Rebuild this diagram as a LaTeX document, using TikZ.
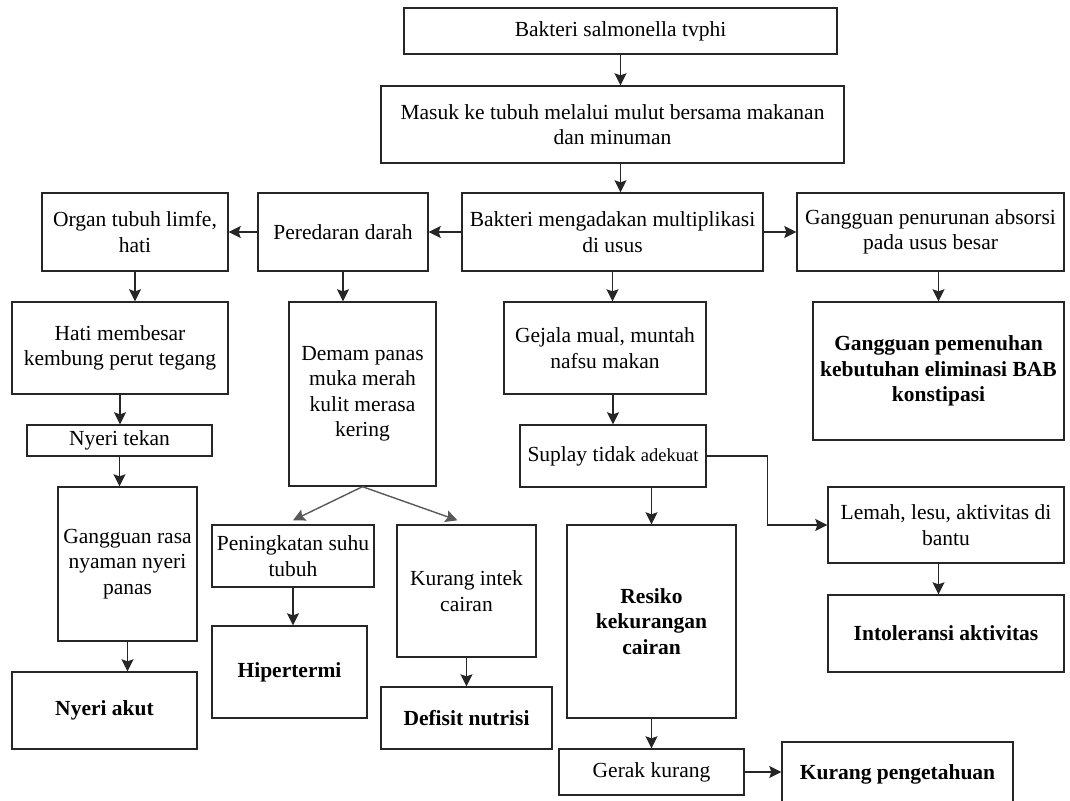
\documentclass[tikz,border=0pt]{standalone}
\usepackage{fontspec}
\setmainfont{Liberation Serif}
\usetikzlibrary{arrows.meta,positioning,calc}

\begin{document}
\begin{tikzpicture}[x=1pt,y=-1pt,
    font=\fontsize{21.5}{25.5}\selectfont,
    every node/.style={align=center},
    box/.style={draw=black!85,line width=1.4pt,inner sep=2pt},
    diag/.style={box,font=\fontsize{21.5}{25.5}\selectfont\bfseries},
    arr/.style={-{Stealth[length=12pt,width=12pt,inset=2pt]},line width=1.4pt,black!85}]
  \useasboundingbox (0,0) rectangle (1070,800);
  \clip (0,0) rectangle (1070,800);

  \node[box,minimum width=433pt,minimum height=46pt]
    (bakteri) at (620.5,31) {Bakteri salmonella tvphi};
  \node[box,minimum width=463pt,minimum height=77pt]
    (masuk) at (612.5,124.5) {Masuk ke tubuh melalui mulut bersama makanan\\dan minuman};
  \node[box,minimum width=301pt,minimum height=78pt]
    (multi) at (612.5,232) {Bakteri mengadakan multiplikasi\\di usus};
  \node[box,minimum width=170pt,minimum height=78pt]
    (darah) at (343,232) {Peredaran darah};
  \node[box,minimum width=186pt,minimum height=78pt]
    (organ) at (135,232) {Organ tubuh limfe,\\hati};
  \node[box,minimum width=267pt,minimum height=78pt]
    (absorsi) at (930.5,232) {Gangguan penurunan absorsi\\pada usus besar};

  \node[box,minimum width=216pt,minimum height=92pt]
    (hati) at (120,348) {Hati membesar\\kembung perut tegang};
  \node[box,minimum width=185pt,minimum height=31pt]
    (tekan) at (119.5,440.5) {Nyeri tekan};
  \node[box,minimum width=139pt,minimum height=154pt]
    (rasa) at (127.5,564) {Gangguan rasa\\nyaman nyeri\\panas};
  \node[diag,minimum width=185pt,minimum height=77pt]
    (akut) at (104.5,710.5) {Nyeri akut};

  \node[box,minimum width=147pt,minimum height=184pt]
    (demam) at (362.5,394) {Demam panas\\muka merah\\kulit merasa\\kering};
  \node[box,minimum width=162pt,minimum height=62pt]
    (suhu) at (293,556) {Peningkatan suhu\\tubuh};
  \node[diag,minimum width=155pt,minimum height=92pt]
    (hiper) at (289.5,672) {Hipertermi};
  \node[box,minimum width=139pt,minimum height=132pt]
    (intek) at (466.5,591) {Kurang intek\\cairan};
  \node[diag,minimum width=171pt,minimum height=62pt]
    (defisit) at (466.5,718) {Defisit nutrisi};

  \node[box,minimum width=202pt,minimum height=92pt]
    (gejala) at (605,348) {Gejala mual, muntah\\nafsu makan};
  \node[box,minimum width=186pt,minimum height=62pt]
    (suplay) at (613,456) {Suplay tidak {\fontsize{18.5}{22}\selectfont adekuat}};
  \node[diag,minimum width=169pt,minimum height=193pt]
    (resiko) at (651.5,621.5) {Resiko\\kekurangan\\cairan};
  \node[box,minimum width=185pt,minimum height=46pt]
    (gerak) at (651.5,772) {Gerak kurang};
  \node[diag,minimum width=231pt,minimum height=64pt]
    (tahu) at (897.5,774) {Kurang pengetahuan};

  \node[diag,minimum width=251pt,minimum height=138pt]
    (bab) at (938.5,371) {Gangguan pemenuhan\\kebutuhan eliminasi BAB\\konstipasi};
  \node[box,minimum width=236pt,minimum height=76pt]
    (lemah) at (946,525) {Lemah, lesu, aktivitas di\\bantu};
  \node[diag,minimum width=236pt,minimum height=77pt]
    (intol) at (946,633.5) {Intoleransi aktivitas};

  \draw[arr] (bakteri.south) -- (bakteri.south |- masuk.north);
  \draw[arr] (masuk.south -| bakteri.south) -- (bakteri.south |- multi.north);
  \draw[arr] (multi.west) -- (darah.east);
  \draw[arr] (darah.west) -- (organ.east);
  \draw[arr] (multi.east) -- (absorsi.west);

  \draw[arr] (organ.south) -- (organ.south |- hati.north);
  \draw[arr] (hati.south) -- (hati.south |- tekan.north);
  \draw[arr] (tekan.south) -- (tekan.south |- rasa.north);
  \draw[arr] (rasa.south) -- (rasa.south |- akut.north);

  \draw[arr] (darah.south) -- (darah.south |- demam.north);
  \draw[arr,black!65] (demam.south) -- ([yshift=4pt]suhu.north);
  \draw[arr,black!65] (demam.south) -- ([xshift=-9pt,yshift=4pt]intek.north);
  \draw[arr] (suhu.south) -- (suhu.south |- hiper.north);
  \draw[arr] (intek.south) -- (defisit.north);

  \draw[arr] (multi.south) -- (multi.south |- gejala.north);
  \draw[arr] (suplay.north |- gejala.south) -- (suplay.north);
  \draw[arr] (resiko.north |- suplay.south) -- (resiko.north);
  \draw[arr] (resiko.south) -- (gerak.north);
  \draw[arr] (gerak.east) -- (gerak.east -| tahu.west);
  \draw[arr] (suplay.east) -- ++(61,0) |- (lemah.west);

  \draw[arr] (bab.north |- absorsi.south) -- (bab.north);
  \draw[arr] (bab.north |- lemah.south) -- (bab.north |- intol.north);
\end{tikzpicture}
\end{document}
